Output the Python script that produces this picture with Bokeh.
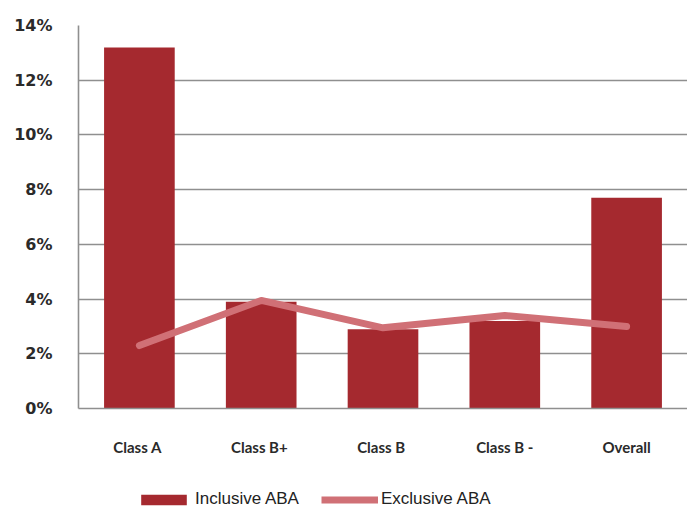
from bokeh.plotting import figure
from bokeh.layouts import column
from bokeh.models import ColumnDataSource, Legend, LegendItem, NumeralTickFormatter, FixedTicker, Range1d
from bokeh.embed import file_html
from bokeh.resources import INLINE

categories = ["Class  A", "Class  B+", "Class  B", "Class B -", "Overall"]
inclusive_aba = [0.132, 0.039, 0.029, 0.032, 0.077]
exclusive_aba = [0.023, 0.0395, 0.0295, 0.034, 0.030]
y_ticks = [0.0, 0.02, 0.04, 0.06, 0.08, 0.10, 0.12, 0.14]
series_names = ["Inclusive ABA", "Exclusive ABA"]

BAR_COLOR = "#A5292F"
LINE_COLOR = "#D07076"

source = ColumnDataSource(dict(cat=categories, inc=inclusive_aba, exc=exclusive_aba))

p = figure(x_range=categories, width=687, height=460, output_backend="svg",
           toolbar_location=None, min_border_left=78, min_border_top=25,
           min_border_right=0, min_border_bottom=52)
p.y_range = Range1d(0, 0.14)
p.outline_line_color = None
p.background_fill_color = "white"

bars = p.vbar(x="cat", top="inc", width=0.58, source=source,
              fill_color=BAR_COLOR, line_color=None)
line = p.line(x="cat", y="exc", source=source, line_color=LINE_COLOR,
              line_width=7, line_cap="round", line_join="round")

p.xgrid.grid_line_color = None
p.ygrid.grid_line_color = "#8f8f8f"
p.ygrid.grid_line_width = 1.6
p.ygrid.level = "underlay"

p.yaxis.ticker = FixedTicker(ticks=y_ticks)
p.yaxis.formatter = NumeralTickFormatter(format="0%")
p.yaxis.major_tick_line_color = None
p.yaxis.minor_tick_line_color = None
p.yaxis.axis_line_color = "#8f8f8f"
p.yaxis.axis_line_width = 1.6
p.yaxis.major_label_standoff = 20
p.yaxis.major_label_text_font = "DejaVu Sans"
p.yaxis.major_label_text_font_size = "16px"
p.yaxis.major_label_text_font_style = "bold"
p.yaxis.major_label_text_color = "#2a2a2a"

p.xaxis.major_tick_line_color = None
p.xaxis.minor_tick_line_color = None
p.xaxis.axis_line_color = "#8f8f8f"
p.xaxis.axis_line_width = 1.6
p.xaxis.major_label_standoff = 23
p.xaxis.major_label_text_font = "Lato"
p.xaxis.major_label_text_font_size = "15px"
p.xaxis.major_label_text_font_style = "bold"
p.xaxis.major_label_text_color = "#2a2a2a"

# legend strip below the chart (glyphs placed outside the visible range)
lg = figure(width=687, height=49, output_backend="svg", toolbar_location=None,
            x_axis_location=None, y_axis_location=None,
            min_border_left=0, min_border_right=0, min_border_top=0, min_border_bottom=0,
            x_range=Range1d(0, 1), y_range=Range1d(0, 1))
lg.grid.grid_line_color = None
lg.outline_line_color = None
lb = lg.vbar(x=[5], top=[5], bottom=[4], width=0.5, fill_color=BAR_COLOR, line_color=None)
ll = lg.line(x=[5, 6], y=[5, 5], line_color=LINE_COLOR, line_width=7)

legend = Legend(items=[LegendItem(label=series_names[0], renderers=[lb]),
                       LegendItem(label=series_names[1], renderers=[ll])],
                orientation="horizontal", location=(57, 0),
                glyph_width=57, glyph_height=13, label_height=18,
                label_text_font="Liberation Sans",
                label_text_font_size="17px", label_text_color="#222222",
                border_line_color=None, background_fill_alpha=0,
                padding=0, margin=0, spacing=22, label_standoff=3)
lg.add_layout(legend, "center")

layout = column(p, lg, spacing=0)
open("out.html", "w").write(file_html(layout, INLINE))
